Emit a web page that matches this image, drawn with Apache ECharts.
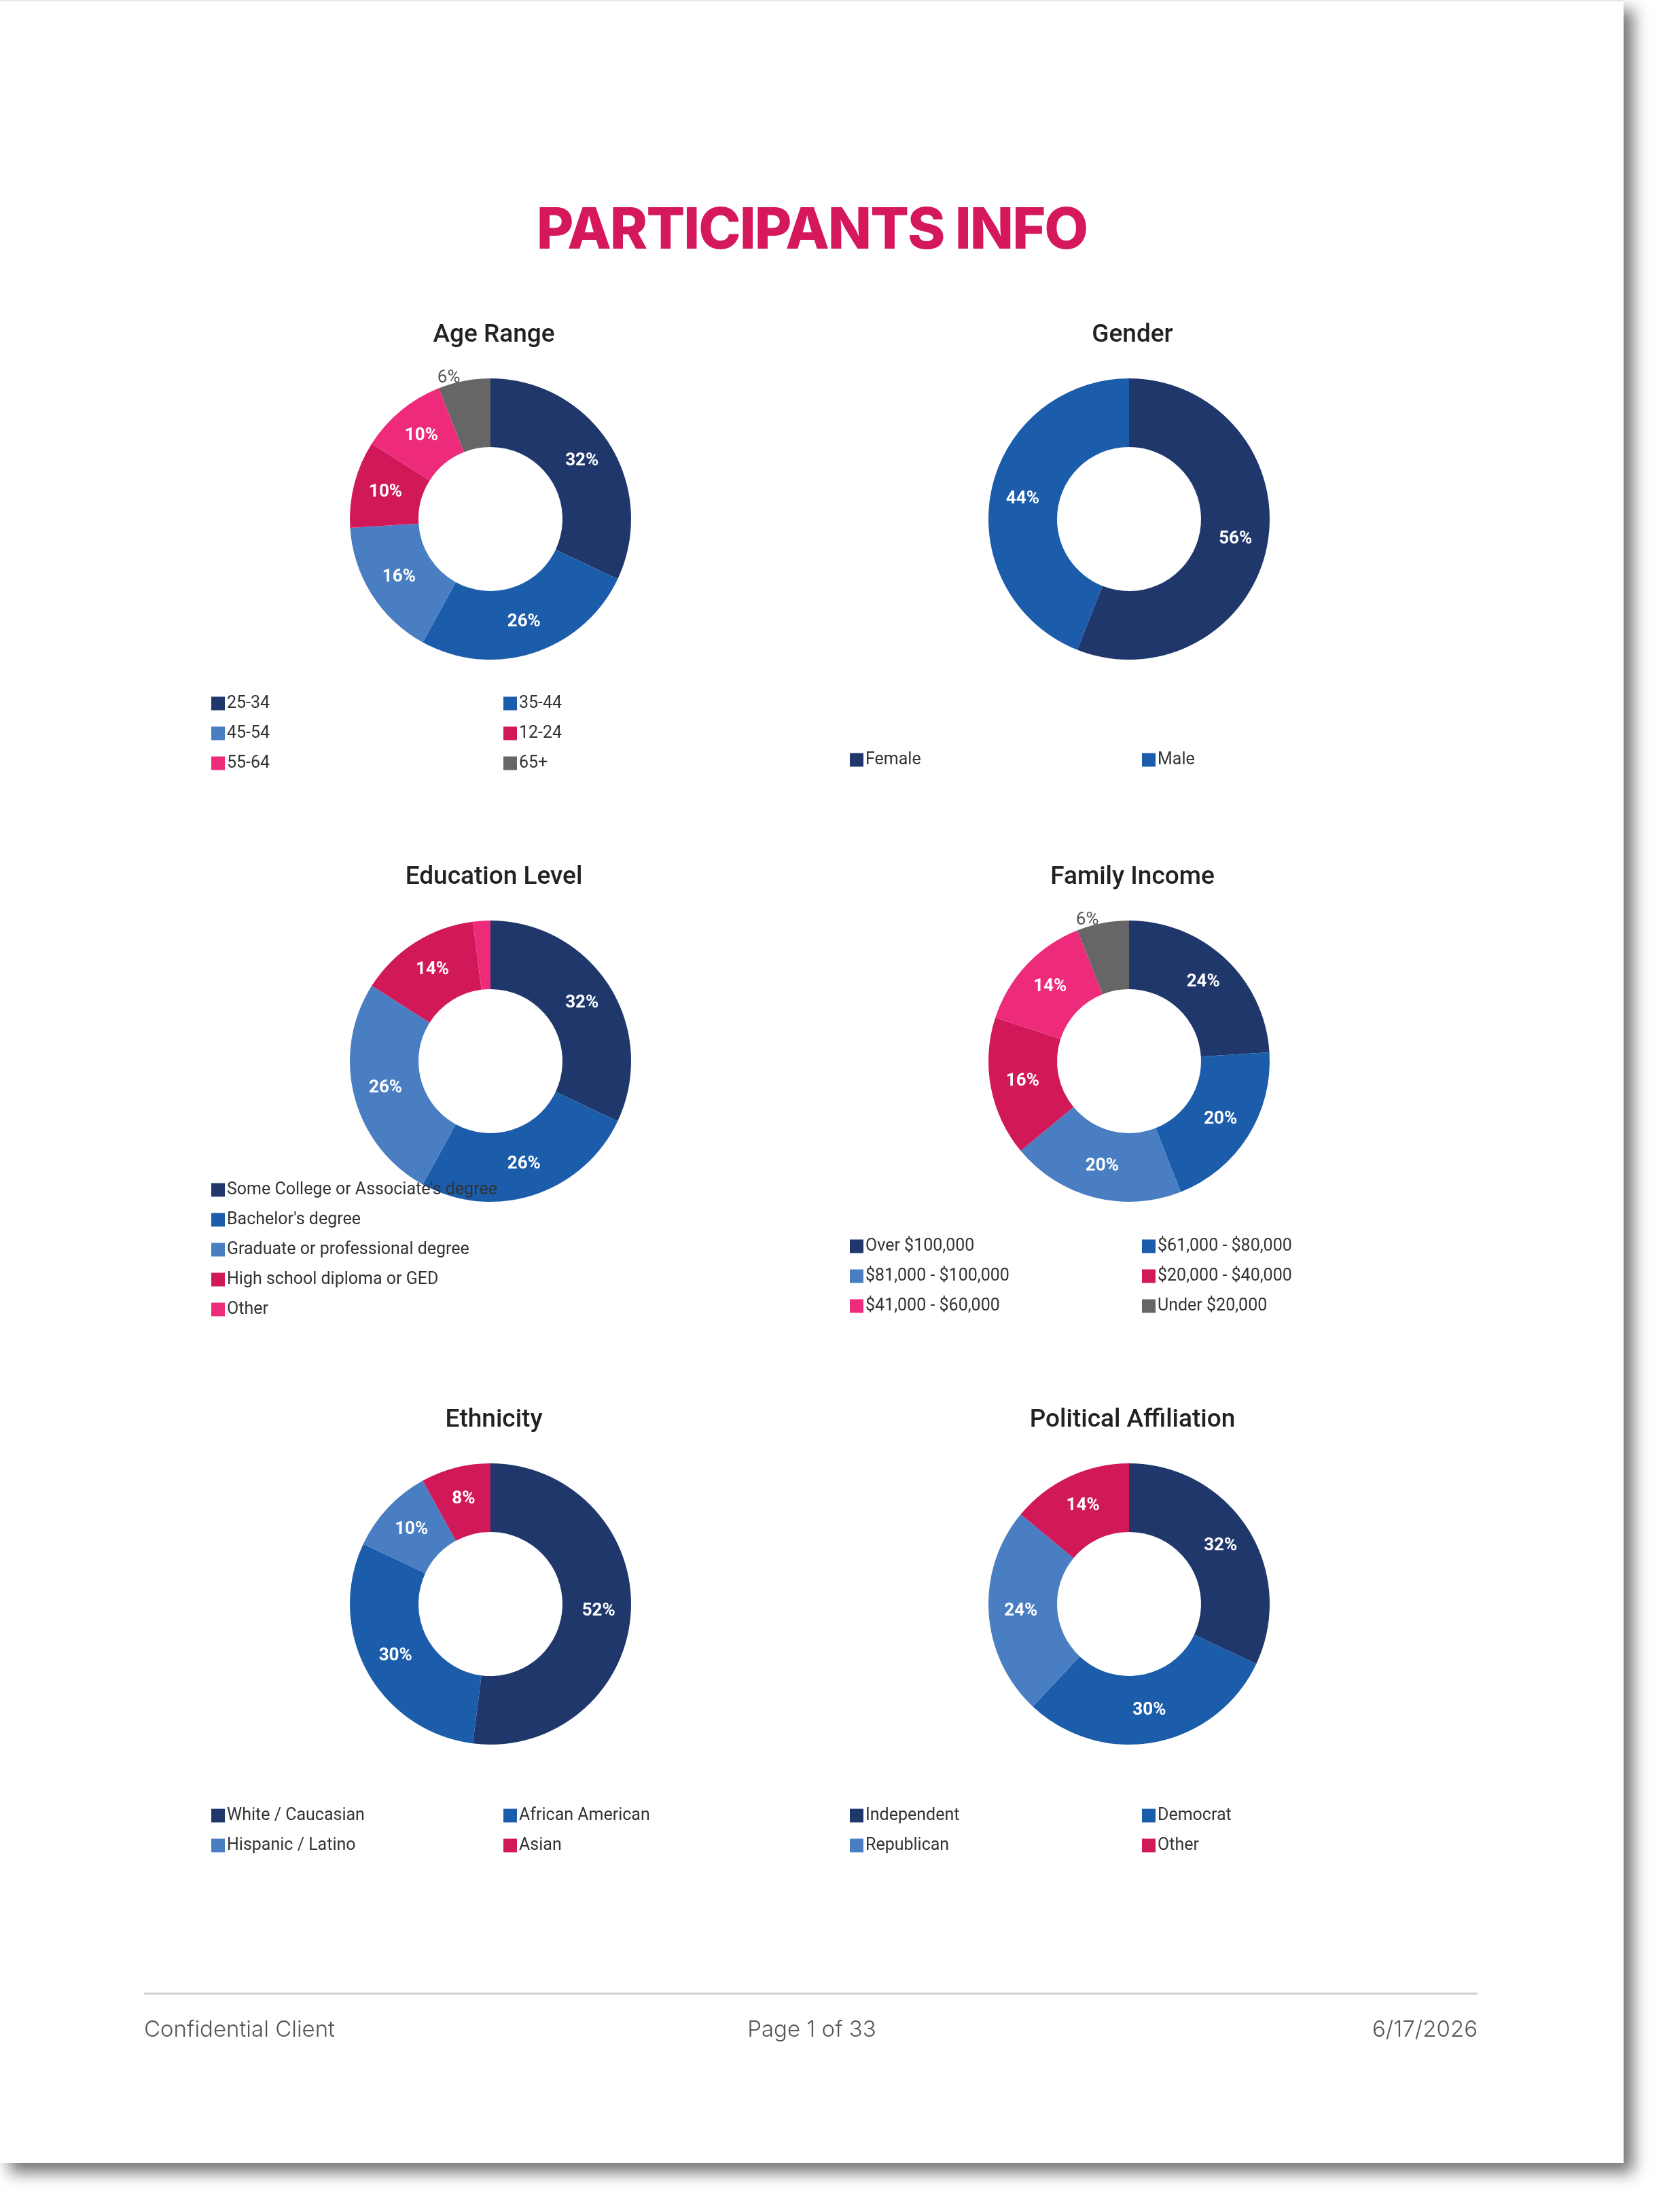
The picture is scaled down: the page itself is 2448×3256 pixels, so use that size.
<!DOCTYPE html>
<html>
<head>
<meta charset="utf-8">
<script src="https://cdn.jsdelivr.net/npm/echarts@6/dist/echarts.min.js"></script>
<style>
  body { margin: 0; background: #fff; width: 2448px; height: 3256px; overflow: hidden; }
  #page { position: absolute; left: 0; top: 0; width: 2390px; height: 3182px; background: #fff;
          box-shadow: 14px 14px 22px rgba(0,0,0,0.55); border-top: 2px solid #e6e6e6; }
  #chart { position: absolute; left: 0; top: 0; width: 2390px; height: 3182px; }
  .head { position: absolute; left: 0; width: 2390px; top: 283px; text-align: center;
          font-family: Inter, sans-serif; font-weight: 800; font-size: 84px; color: #d5175b; letter-spacing: -2px; }
  .rule { position: absolute; left: 212px; width: 1963px; top: 2931px; height: 3px; background: #cfcfcf; }
  .foot { position: absolute; top: 2964px; font-family: Inter, sans-serif; font-weight: 300; font-size: 33px; color: #555; }
</style>
</head>
<body>
<div id="page">
  <div class="head">PARTICIPANTS INFO</div>
  <div id="chart"></div>
  <div class="rule"></div>
  <div class="foot" style="left:212px">Confidential Client</div>
  <div class="foot" style="left:0;width:2390px;text-align:center">Page 1 of 33</div>
  <div class="foot" style="right:215px">6/17/2026</div>
</div>
<script>
// colours
var NAVY = '#1f376b', BLUE = '#1b5cab', LIGHT = '#4a7ec2', CRIMSON = '#d1195a', PINK = '#ee2b7b', GREY = '#666666';

// data, clockwise from top
var ageNames = ['25-34', '35-44', '45-54', '12-24', '55-64', '65+'];
var ageValues = [32, 26, 16, 10, 10, 6];
var ageColors = [NAVY, BLUE, LIGHT, CRIMSON, PINK, GREY];

var genderNames = ['Female', 'Male'];
var genderValues = [56, 44];
var genderColors = [NAVY, BLUE];

var eduNames = ["Some College or Associate's degree", "Bachelor's degree", 'Graduate or professional degree', 'High school diploma or GED', 'Other'];
var eduValues = [32, 26, 26, 14, 2];
var eduColors = [NAVY, BLUE, LIGHT, CRIMSON, PINK];

var incomeNames = ['Over $100,000', '$61,000 - $80,000', '$81,000 - $100,000', '$20,000 - $40,000', '$41,000 - $60,000', 'Under $20,000'];
var incomeValues = [24, 20, 20, 16, 14, 6];
var incomeColors = [NAVY, BLUE, LIGHT, CRIMSON, PINK, GREY];

var ethNames = ['White / Caucasian', 'African American', 'Hispanic / Latino', 'Asian'];
var ethValues = [52, 30, 10, 8];
var ethColors = [NAVY, BLUE, LIGHT, CRIMSON];

var polNames = ['Independent', 'Democrat', 'Republican', 'Other'];
var polValues = [32, 30, 24, 14];
var polColors = [NAVY, BLUE, LIGHT, CRIMSON];

var FONT = 'Roboto';
var LX = 722, RX = 1662;
var charts = [
  { title: 'Age Range', names: ageNames, values: ageValues, colors: ageColors, cx: LX, cy: 762, legTop: 1021, cols: [311, 741] },
  { title: 'Gender', names: genderNames, values: genderValues, colors: genderColors, cx: RX, cy: 762, legTop: 1104, cols: [1251, 1681] },
  { title: 'Education Level', names: eduNames, values: eduValues, colors: eduColors, cx: LX, cy: 1560, legTop: 1737, cols: [311] },
  { title: 'Family Income', names: incomeNames, values: incomeValues, colors: incomeColors, cx: RX, cy: 1560, legTop: 1820, cols: [1251, 1681] },
  { title: 'Ethnicity', names: ethNames, values: ethValues, colors: ethColors, cx: LX, cy: 2359, legTop: 2658, cols: [311, 741] },
  { title: 'Political Affiliation', names: polNames, values: polValues, colors: polColors, cx: RX, cy: 2359, legTop: 2658, cols: [1251, 1681] }
];

var titles = [], series = [], legends = [];
charts.forEach(function (c, ci) {
  titles.push({
    text: c.title, left: c.cx, top: c.cy - 294, textAlign: 'center',
    textStyle: { fontFamily: FONT, fontWeight: 500, fontSize: 37, color: '#222' }
  });
  var data = c.names.map(function (n, i) {
    var d = { name: n, value: c.values[i], itemStyle: { color: c.colors[i] } };
    if (c.values[i] < 4) {
      d.label = { show: false };
    } else if (c.values[i] < 8) {
      d.label = { position: 'outside', color: '#555', fontWeight: 'normal' };
      d.labelLine = { show: false, length: 4, length2: 0 };
    }
    return d;
  });
  series.push({
    type: 'pie', center: [c.cx, c.cy], radius: [106, 207], startAngle: 90, clockwise: true,
    avoidLabelOverlap: false, silent: true,
    label: { show: true, position: 'inside', formatter: '{c}%', color: '#fff', fontFamily: FONT, fontWeight: 'bold', fontSize: 26 },
    labelLine: { show: false },
    data: data
  });
  // legend columns, row-major order
  var ncol = c.cols.length;
  c.cols.forEach(function (x, k) {
    var items = [];
    c.names.forEach(function (n, i) {
      if (i % ncol === k) items.push({ name: n, itemStyle: { color: c.colors[i] } });
    });
    legends.push({
      orient: 'vertical', left: x, top: c.legTop, icon: 'rect', itemWidth: 20, itemHeight: 20,
      itemGap: 19, selectedMode: false, padding: 0,
      textStyle: { fontFamily: FONT, fontSize: 25, color: '#333', padding: [0, 0, 0, -2] },
      data: items
    });
  });
});

var myChart = echarts.init(document.getElementById('chart'));
myChart.setOption({ animation: false, title: titles, legend: legends, series: series });
</script>
</body>
</html>
